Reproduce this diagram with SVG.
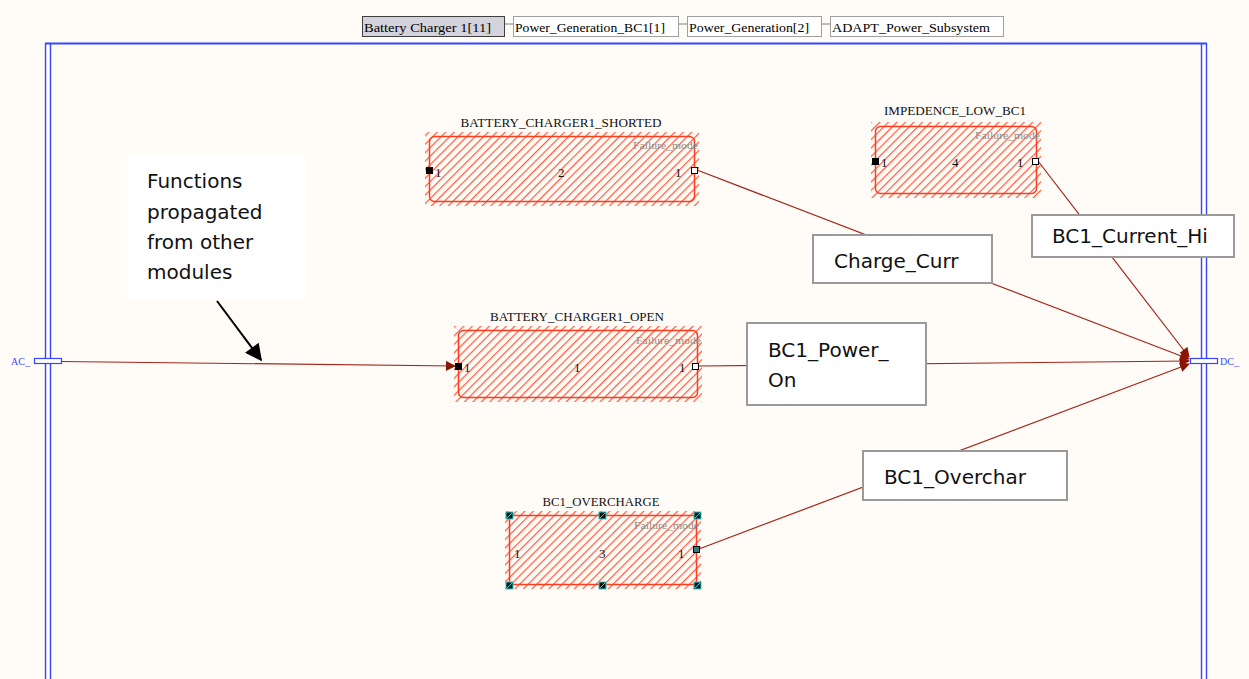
<svg xmlns="http://www.w3.org/2000/svg" width="1249" height="679" viewBox="0 0 1249 679">
<defs>
<pattern id="hatch" width="6" height="6" patternUnits="userSpaceOnUse" patternTransform="rotate(45)">
<line x1="0.6" y1="0" x2="0.6" y2="6" stroke="#ff5a3c" stroke-width="1.2"/>
</pattern>
<marker id="ah" viewBox="0 0 10 10" refX="9" refY="5" markerWidth="11" markerHeight="10" orient="auto" markerUnits="userSpaceOnUse">
<path d="M0,0 L10,5 L0,10 z" fill="#8b1505"/>
</marker>
<marker id="blk" viewBox="0 0 10 10" refX="9" refY="5" markerWidth="20" markerHeight="17" orient="auto" markerUnits="userSpaceOnUse">
<path d="M0,0 L10,5 L0,10 z" fill="#000"/>
</marker>
</defs>
<style>
.bg{fill:#fffbf7}
.frame{stroke:#3548ff;stroke-width:1.4;fill:none}
.tab{fill:#fff;stroke:#a0a0a0;stroke-width:1}
.tabsel{fill:#d4d2da;stroke:#404040;stroke-width:1}
.tt{font-family:"Liberation Serif",serif;font-size:12px;fill:#000}
.title{font-family:"Liberation Serif",serif;font-size:12px;fill:#111;text-anchor:middle}
.num{font-family:"Liberation Serif",serif;font-size:13px;fill:#111}
.fm{font-family:"Liberation Serif",serif;font-size:11px;fill:#8c8c8c;text-anchor:end}
.hz{fill:url(#hatch)}
.bd{fill:none;stroke:#ff3c1e;stroke-width:1.5}
.pin{fill:#000;stroke:#000;stroke-width:1}
.pout{fill:#fff;stroke:#000;stroke-width:1}
.conn{stroke:#a3241a;stroke-width:1.2;fill:none;marker-end:url(#ah)}
.port{fill:#fff;stroke:#3548ff;stroke-width:1.2}
.plab{font-family:"Liberation Serif",serif;font-size:10px;fill:#3548ff}
.call{fill:#fff;stroke:#9a9a9a;stroke-width:2}
.ct{font-family:"DejaVu Sans",sans-serif;font-size:20px;fill:#111}
.hd{fill:#111;stroke:#2ad0d0;stroke-width:1}
</style>
<rect class="bg" x="0" y="0" width="1249" height="679"/>

<g id="tabs">
<line x1="505" y1="24" x2="513" y2="24" stroke="#808080"/>
<line x1="679" y1="24" x2="687" y2="24" stroke="#808080"/>
<line x1="822" y1="24" x2="830" y2="24" stroke="#808080"/>
<rect class="tabsel" x="362.5" y="16.5" width="142" height="20"/>
<text class="tt" x="364" y="32" textLength="127" lengthAdjust="spacingAndGlyphs">Battery Charger 1[11]</text>
<rect class="tab" x="513.5" y="16.5" width="165" height="20"/>
<text class="tt" x="515" y="32" textLength="150" lengthAdjust="spacingAndGlyphs">Power_Generation_BC1[1]</text>
<rect class="tab" x="687.5" y="16.5" width="134" height="20"/>
<text class="tt" x="689" y="32" textLength="120" lengthAdjust="spacingAndGlyphs">Power_Generation[2]</text>
<rect class="tab" x="830.5" y="16.5" width="173" height="20"/>
<text class="tt" x="832" y="32" textLength="158" lengthAdjust="spacingAndGlyphs">ADAPT_Power_Subsystem</text>
</g>

<g id="frame">
<line class="frame" x1="45" y1="43.5" x2="1207" y2="43.5" style="stroke-width:2"/>
<line class="frame" x1="45.5" y1="43" x2="45.5" y2="679"/>
<line class="frame" x1="50.5" y1="43" x2="50.5" y2="679"/>
<line class="frame" x1="1201.5" y1="43" x2="1201.5" y2="679"/>
<line class="frame" x1="1206.5" y1="43" x2="1206.5" y2="679"/>
</g>

<g id="connectors">
<line class="conn" x1="61" y1="361.5" x2="455" y2="366"/>
<line class="conn" x1="697" y1="170" x2="1189" y2="359"/>
<line class="conn" x1="1038" y1="161" x2="1189" y2="357"/>
<line class="conn" x1="698" y1="366" x2="1189" y2="361"/>
<line class="conn" x1="699" y1="549" x2="1189" y2="364"/>
</g>

<g id="port-ac">
<rect class="port" x="34.5" y="358.5" width="27" height="5"/>
<text class="plab" x="11" y="365">AC_</text>
</g>
<g id="port-dc">
<rect class="port" x="1190.5" y="358.5" width="27" height="5"/>
<text class="plab" x="1220" y="365">DC_</text>
</g>

<g id="node-shorted">
<text class="title" x="561" y="127" textLength="201" lengthAdjust="spacingAndGlyphs">BATTERY_CHARGER1_SHORTED</text>
<rect class="hz" x="425" y="132" width="274" height="74"/>
<rect class="bd" x="429.5" y="136.5" width="265" height="65" rx="5"/>
<text class="fm" x="698" y="149" textLength="65" lengthAdjust="spacingAndGlyphs">Failure_mode</text>
<rect class="pin" x="426.5" y="167.5" width="6" height="6"/>
<rect class="pout" x="691.5" y="167.5" width="6" height="6"/>
<text class="num" x="435" y="177">1</text>
<text class="num" x="558" y="177">2</text>
<text class="num" x="675" y="177">1</text>
</g>

<g id="node-impedence">
<text class="title" x="955" y="115" textLength="142" lengthAdjust="spacingAndGlyphs">IMPEDENCE_LOW_BC1</text>
<rect class="hz" x="871" y="122" width="170" height="76"/>
<rect class="bd" x="875.5" y="126.5" width="161" height="67" rx="5"/>
<text class="fm" x="1040" y="139" textLength="65" lengthAdjust="spacingAndGlyphs">Failure_mode</text>
<rect class="pin" x="872.5" y="158.5" width="6" height="6"/>
<rect class="pout" x="1032.5" y="158.5" width="6" height="6"/>
<text class="num" x="881" y="167">1</text>
<text class="num" x="952" y="167">4</text>
<text class="num" x="1017" y="167">1</text>
</g>

<g id="node-open">
<text class="title" x="577" y="321" textLength="174" lengthAdjust="spacingAndGlyphs">BATTERY_CHARGER1_OPEN</text>
<rect class="hz" x="454" y="326" width="248" height="76"/>
<rect class="bd" x="458.5" y="330.5" width="239" height="67" rx="5"/>
<text class="fm" x="701" y="344" textLength="65" lengthAdjust="spacingAndGlyphs">Failure_mode</text>
<rect class="pin" x="455.5" y="363.5" width="6" height="6"/>
<rect class="pout" x="692.5" y="363.5" width="6" height="6"/>
<text class="num" x="464" y="372">1</text>
<text class="num" x="574" y="372">1</text>
<text class="num" x="679" y="372">1</text>
</g>

<g id="node-overcharge">
<text class="title" x="601" y="506" textLength="117" lengthAdjust="spacingAndGlyphs">BC1_OVERCHARGE</text>
<rect class="hz" x="505" y="511" width="196" height="78"/>
<rect class="bd" x="509.5" y="515.5" width="187" height="69" rx="1"/>
<text class="fm" x="699" y="529" textLength="65" lengthAdjust="spacingAndGlyphs">Failure_mode</text>
<rect x="693.5" y="546.5" width="6" height="6" fill="#2f7f86" stroke="#000"/>
<text class="num" x="514" y="558">1</text>
<text class="num" x="599" y="558">3</text>
<text class="num" x="678" y="558">1</text>
<rect class="hd" x="506" y="512" width="7" height="7"/><line x1="507" y1="518" x2="512" y2="513" stroke="#2ad0d0"/>
<rect class="hd" x="599" y="512" width="7" height="7"/><line x1="600" y1="518" x2="605" y2="513" stroke="#2ad0d0"/>
<rect class="hd" x="694" y="512" width="7" height="7"/><line x1="695" y1="518" x2="700" y2="513" stroke="#2ad0d0"/>
<rect class="hd" x="506" y="582" width="7" height="7"/><line x1="507" y1="588" x2="512" y2="583" stroke="#2ad0d0"/>
<rect class="hd" x="599" y="582" width="7" height="7"/><line x1="600" y1="588" x2="605" y2="583" stroke="#2ad0d0"/>
<rect class="hd" x="694" y="582" width="7" height="7"/><line x1="695" y1="588" x2="700" y2="583" stroke="#2ad0d0"/>
</g>

<g id="callout-functions">
<rect x="127" y="155" width="178" height="145" fill="#fff"/>
<text class="ct" x="147" y="188">Functions</text>
<text class="ct" x="147" y="219">propagated</text>
<text class="ct" x="147" y="249">from other</text>
<text class="ct" x="147" y="279">modules</text>
<line x1="217" y1="301" x2="261" y2="360" stroke="#000" stroke-width="2" marker-end="url(#blk)"/>
</g>

<g id="label-charge-curr">
<rect class="call" x="813" y="235" width="179" height="48"/>
<text class="ct" x="834" y="268">Charge_Curr</text>
</g>
<g id="label-current-hi">
<rect class="call" x="1032" y="215" width="202" height="42"/>
<text class="ct" x="1052" y="243">BC1_Current_Hi</text>
</g>
<g id="label-power-on">
<rect class="call" x="747" y="323" width="179" height="82"/>
<text class="ct" x="768" y="357">BC1_Power_</text>
<text class="ct" x="768" y="387">On</text>
</g>
<g id="label-overchar">
<rect class="call" x="863" y="451" width="204" height="49"/>
<text class="ct" x="884" y="484">BC1_Overchar</text>
</g>
</svg>
